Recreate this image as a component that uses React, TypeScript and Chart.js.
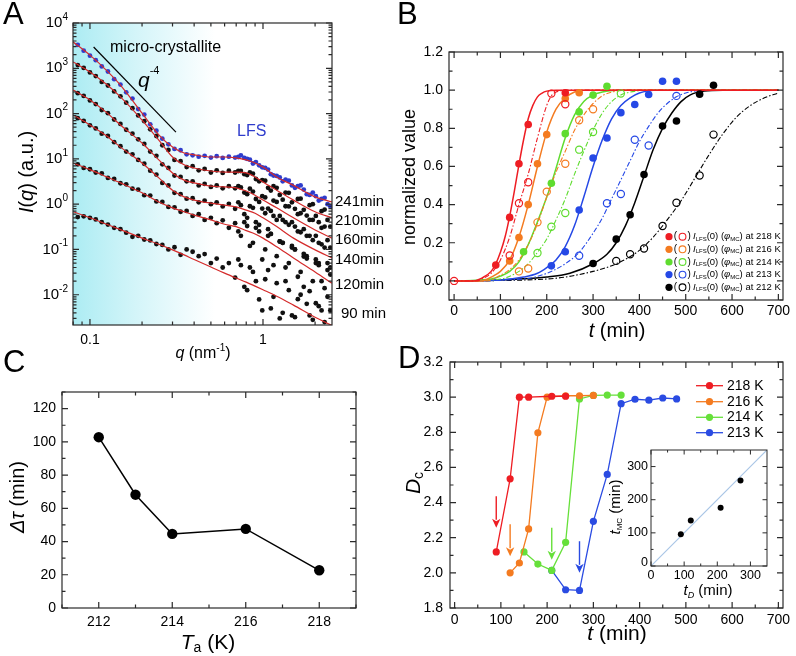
import React, { useEffect, useRef } from "react";
import { Chart, registerables } from "chart.js";

Chart.register(...registerables);

const FONT = "'Liberation Sans', Arial, Helvetica, sans-serif";
const W = 796;
const H = 656;

// ================= Panel A : SAXS curves =================
const qGrid = [0.085, 0.092, 0.1, 0.108, 0.117, 0.127, 0.138, 0.15, 0.162, 0.176, 0.19, 0.206, 0.223, 0.242, 0.262, 0.284, 0.308, 0.334, 0.362, 0.392, 0.425, 0.46, 0.5, 0.54, 0.585, 0.635, 0.69, 0.745, 0.81, 0.875, 0.95, 1.03, 1.11, 1.2, 1.3, 1.41, 1.53, 1.65, 1.79, 1.94, 2.1, 2.27, 2.45];
const I_241 = [3300, 2450, 1900, 1510, 1100, 850, 575, 437, 295, 214, 126, 95, 58, 42, 28, 21, 16.6, 15.5, 12.6, 12, 11.2, 11.7, 10.7, 11.5, 10.5, 11.2, 10.7, 12, 10, 7.9, 7.2, 6.3, 4.6, 4.2, 3.2, 3.3, 2.3, 2.6, 1.66, 1.8, 1.2, 1.38, 0.89];
const I_210 = [1175, 1020, 810, 675, 500, 417, 309, 240, 174, 132, 91, 68, 45, 32, 20, 15.8, 9.5, 8.9, 6.6, 6.9, 5.6, 6, 5, 5.6, 4.9, 5.5, 5, 5.4, 4.4, 4.7, 3.2, 3.3, 2, 2.3, 1.26, 1.78, 0.79, 1.32, 0.56, 1.0, 0.4, 0.76, 0.32];
const I_160 = [282, 245, 195, 162, 120, 102, 74, 59, 44, 36, 27, 21.4, 14.5, 11.7, 7.6, 6.3, 4.3, 4, 3.2, 3.2, 2.6, 2.8, 2.4, 2.6, 2.24, 2.5, 2.24, 2.34, 1.66, 1.9, 1.12, 1.41, 0.71, 1.12, 0.45, 0.89, 0.32, 0.63, 0.2, 0.45, 0.14, 0.32, 0.11];
const I_140 = [79, 69, 55, 47, 36, 32, 23.4, 19, 14.5, 12.6, 9.5, 7.8, 5.5, 4.5, 2.95, 2.6, 1.78, 1.66, 1.32, 1.35, 1.1, 1.2, 1.0, 1.1, 0.89, 1.02, 0.79, 0.95, 0.5, 0.83, 0.35, 0.63, 0.22, 0.45, 0.14, 0.35, 0.1, 0.24, 0.071, 0.16, 0.05, 0.11, 0.04];
const I_120 = [7.6, 6.3, 5.9, 5, 4.8, 3.8, 3.6, 2.9, 2.75, 2.2, 2.1, 1.58, 1.55, 1.15, 1.12, 0.87, 0.85, 0.68, 0.71, 0.55, 0.6, 0.45, 0.5, 0.38, 0.44, 0.3, 0.38, 0.2, 0.33, 0.14, 0.25, 0.1, 0.22, 0.071, 0.14, 0.05, 0.1, 0.032, 0.063, 0.02, 0.045, 0.014, 0.028];
const I_90 = [0.52, 0.54, 0.5, 0.46, 0.4, 0.355, 0.3, 0.28, 0.235, 0.19, 0.2, 0.166, 0.158, 0.132, 0.126, 0.1, 0.112, 0.076, 0.1, 0.089, 0.071, 0.079, 0.05, 0.063, 0.04, 0.05, 0.024, 0.045, 0.0126, 0.032, 0.0079, 0.022, 0.005, 0.018, 0.004, 0.0126, 0.0032, 0.01, 0.0063, 0.0028, 0.0056, 0.0025, 0.0045];

const qExtra = [0.72, 0.78, 0.84, 0.91, 0.99, 1.07, 1.15, 1.25, 1.35, 1.47, 1.59, 1.72, 1.86, 2.02, 2.18, 2.36];
const I_241x = [11, 10.5, 9.6, 8.5, 6.5, 5.8, 4.3, 3.9, 3.5, 2.6, 2.5, 2.1, 1.6, 1.5, 1.3, 1.0];
const I_210x = [5.4, 4.6, 5.0, 3.6, 3.4, 2.3, 2.5, 1.6, 1.8, 1.1, 1.3, 0.75, 0.95, 0.55, 0.7, 0.45];
const I_160x = [2.5, 1.8, 2.2, 1.3, 1.5, 0.8, 1.2, 0.55, 0.9, 0.4, 0.6, 0.28, 0.45, 0.2, 0.3, 0.16];
const I_140x = [1.1, 0.6, 0.9, 0.4, 0.8, 0.28, 0.55, 0.15, 0.4, 0.12, 0.25, 0.08, 0.2, 0.06, 0.13, 0.05];
const I_120x = [0.25, 0.4, 0.12, 0.3, 0.06, 0.2, 0.045, 0.15, 0.04, 0.11, 0.025, 0.07, 0.012, 0.05, 0.02, 0.035];
const I_90x = [0.06, 0.015, 0.04, 0.02, 0.0045, 0.035, 0.009, 0.003, 0.02, 0.0035, 0.008, 0.015, 0.0035, 0.0065, 0.0045, 0.009];

const qFit = [0.08, 0.1, 0.125, 0.15, 0.2, 0.25, 0.3, 0.35, 0.4, 0.5, 0.6, 0.7, 0.8, 0.9, 1.0, 1.2, 1.5, 2.0, 2.5];
const fit_241 = [3800, 1950, 890, 427, 102, 34, 18.2, 13.5, 12.3, 11, 11, 10.5, 9.5, 8.1, 6.6, 4.0, 2.6, 1.45, 1.12];
const fit_210 = [1380, 830, 437, 234, 72, 26, 11, 7.4, 6.3, 5.4, 5.1, 5.1, 4.9, 4.0, 3.1, 2.04, 1.23, 0.68, 0.5];
const fit_160 = [330, 200, 105, 56, 22.4, 9.5, 4.9, 3.4, 2.95, 2.5, 2.4, 2.3, 1.95, 1.58, 1.23, 0.83, 0.5, 0.27, 0.178];
const fit_140 = [93, 56, 32, 18.2, 8.1, 3.8, 2.04, 1.45, 1.23, 1.05, 0.95, 0.87, 0.74, 0.63, 0.5, 0.32, 0.178, 0.098, 0.065];
const fit_120 = [8.1, 5.8, 4.0, 2.95, 1.78, 1.12, 0.83, 0.68, 0.575, 0.45, 0.36, 0.32, 0.26, 0.22, 0.178, 0.115, 0.065, 0.032, 0.018];
const fit_90 = [0.68, 0.5, 0.36, 0.275, 0.178, 0.13, 0.098, 0.076, 0.06, 0.041, 0.03, 0.0234, 0.019, 0.0155, 0.0129, 0.0093, 0.0059, 0.0032, 0.0021];

const slopeQ = [0.105, 0.314];
const slopeI = [2950, 39];
const aLabels = ["241min", "210min", "160min", "140min", "120min", "90 min"];

// ================= Panel B : kinetics =================
const bTemps = ["218 K", "216 K", "214 K", "213 K", "212 K"];
const bColors = ["#ee1d23", "#f47b20", "#5fdc2f", "#2548e6", "#000000"];

const tLfs218 = [90, 120, 140, 160, 240];
const vLfs218 = [0.083, 0.333, 0.614, 0.82, 0.986];
const tMc218 = [0, 120, 140, 160, 210, 240];
const vMc218 = [0, 0.133, 0.407, 0.517, 0.982, 0.926];
const tLfs216 = [120, 140, 160, 180, 200, 240, 270];
const vLfs216 = [0.105, 0.228, 0.4, 0.614, 0.767, 0.956, 0.986];
const tMc216 = [140, 160, 180, 200, 240, 270, 300];
const vMc216 = [0.05, 0.065, 0.307, 0.468, 0.614, 0.842, 0.9];
const tLfs214 = [150, 210, 240, 270, 300, 330];
const vLfs214 = [0.153, 0.512, 0.772, 0.886, 0.974, 1.02];
const tMc214 = [180, 210, 240, 270, 300, 360];
const vMc214 = [0.146, 0.284, 0.356, 0.688, 0.781, 0.982];
const tLfs213 = [210, 240, 270, 300, 330, 360, 390, 420, 450, 480];
const vLfs213 = [0.079, 0.153, 0.372, 0.644, 0.749, 0.882, 0.925, 0.977, 1.047, 1.047];
const tMc213 = [270, 330, 360, 390, 420, 480];
const vMc213 = [0.132, 0.407, 0.456, 0.74, 0.71, 0.97];
const tLfs212 = [300, 350, 380, 410, 450, 480, 530, 560];
const vLfs212 = [0.091, 0.219, 0.347, 0.558, 0.812, 0.838, 0.979, 1.026];
const tMc212 = [350, 380, 410, 450, 480, 530, 560];
const vMc212 = [0.105, 0.14, 0.17, 0.288, 0.41, 0.553, 0.767];

const tFitS218 = [0, 40, 60, 80, 90, 100, 110, 120, 130, 140, 150, 160, 170, 180, 190, 200, 220, 700];
const vFitS218 = [0, 0, 0.015, 0.05, 0.09, 0.15, 0.23, 0.34, 0.47, 0.61, 0.74, 0.85, 0.92, 0.965, 0.985, 0.995, 1, 1];
const tFitD218 = [0, 50, 60, 80, 100, 120, 140, 160, 180, 200, 210, 220, 240, 700];
const vFitD218 = [0, 0, 0.01, 0.04, 0.11, 0.23, 0.4, 0.56, 0.75, 0.92, 0.97, 0.99, 1, 1];
const tFitS216 = [0, 60, 80, 100, 120, 140, 160, 180, 200, 220, 240, 260, 280, 700];
const vFitS216 = [0, 0, 0.02, 0.05, 0.11, 0.23, 0.4, 0.6, 0.78, 0.9, 0.96, 0.99, 1, 1];
const tFitD216 = [0, 70, 100, 120, 140, 160, 180, 200, 220, 240, 260, 280, 300, 320, 340, 380, 700];
const vFitD216 = [0, 0, 0.03, 0.06, 0.11, 0.19, 0.3, 0.44, 0.57, 0.68, 0.79, 0.87, 0.93, 0.97, 0.99, 1, 1];
const tFitS214 = [0, 80, 100, 120, 140, 160, 180, 200, 210, 220, 240, 260, 280, 300, 320, 350, 700];
const vFitS214 = [0, 0.01, 0.025, 0.05, 0.1, 0.19, 0.31, 0.44, 0.51, 0.59, 0.75, 0.87, 0.94, 0.975, 0.99, 1, 1];
const tFitD214 = [0, 100, 140, 160, 180, 200, 220, 240, 260, 280, 300, 320, 340, 360, 380, 420, 700];
const vFitD214 = [0, 0.01, 0.05, 0.09, 0.15, 0.22, 0.32, 0.43, 0.56, 0.68, 0.79, 0.88, 0.94, 0.975, 0.99, 1, 1];
const tFitS213 = [0, 100, 150, 180, 200, 220, 240, 260, 280, 300, 320, 340, 360, 380, 400, 430, 700];
const vFitS213 = [0, 0.005, 0.02, 0.04, 0.07, 0.11, 0.18, 0.29, 0.44, 0.6, 0.74, 0.85, 0.92, 0.96, 0.985, 1, 1];
const tFitD213 = [0, 150, 200, 240, 270, 300, 320, 340, 360, 380, 400, 420, 440, 460, 480, 500, 540, 700];
const vFitD213 = [0, 0.01, 0.04, 0.09, 0.15, 0.25, 0.33, 0.43, 0.53, 0.63, 0.73, 0.81, 0.88, 0.93, 0.965, 0.985, 1, 1];
const tFitS212 = [0, 100, 200, 250, 300, 330, 350, 370, 390, 410, 430, 450, 470, 490, 510, 540, 580, 700];
const vFitS212 = [0, 0.005, 0.02, 0.04, 0.09, 0.14, 0.2, 0.29, 0.41, 0.55, 0.69, 0.8, 0.88, 0.94, 0.975, 0.995, 1, 1];
const tFitD212 = [0, 200, 300, 350, 400, 430, 460, 490, 520, 550, 580, 610, 640, 670, 700];
const vFitD212 = [0, 0.01, 0.05, 0.09, 0.16, 0.23, 0.32, 0.42, 0.54, 0.66, 0.77, 0.86, 0.92, 0.96, 0.985];

// ================= Panel C =================
const cTemp = [212, 213, 214, 216, 218];
const cDtau = [102.8, 68.2, 44.6, 47.6, 22.7];

// ================= Panel D =================
const dTemps = ["218 K", "216 K", "214 K", "213 K"];
const dColors = ["#ee1d23", "#f47b20", "#66e03a", "#2a4be2"];
const dT218 = [90, 120, 140, 160, 210, 240];
const dD218 = [2.119, 2.535, 3.0, 3.0, 3.005, 3.005];
const dT216 = [120, 140, 160, 180, 200, 240, 270, 300];
const dD216 = [2.0, 2.056, 2.25, 2.797, 3.0, 3.008, 3.008, 3.01];
const dT214 = [150, 180, 210, 240, 270, 300, 330, 360];
const dD214 = [2.119, 2.05, 2.014, 2.174, 2.99, 3.01, 3.012, 3.012];
const dT213 = [210, 240, 270, 300, 330, 360, 390, 420, 450, 480];
const dD213 = [2.014, 1.904, 1.9, 2.293, 2.56, 2.963, 2.988, 2.983, 2.995, 2.99];
const arrowT = [90, 120, 210, 270];
const arrowTop = [2.436, 2.276, 2.256, 2.18];
const arrowBot = [2.256, 2.094, 2.075, 2.0];

// inset
const insetTD = [90, 120, 210, 270];
const insetTMC = [96, 137, 176, 258];
const diagT = [0, 350];

// ================= helpers =================
type Seg = { t: string; size: number; italic?: boolean; dy?: number; color?: string };

function segFont(s: Seg) {
  return (s.italic ? "italic " : "") + s.size + "px " + FONT;
}

function drawRich(ctx: any, segs: Seg[], x: number, y: number, align = "center", rot = 0, color = "#000") {
  ctx.save();
  ctx.translate(x, y);
  if (rot) ctx.rotate(rot);
  let w = 0;
  for (const s of segs) {
    ctx.font = segFont(s);
    w += ctx.measureText(s.t).width;
  }
  let cx = align === "center" ? -w / 2 : align === "right" ? -w : 0;
  ctx.textBaseline = "middle";
  ctx.textAlign = "left";
  for (const s of segs) {
    ctx.font = segFont(s);
    ctx.fillStyle = s.color || color;
    ctx.fillText(s.t, cx, s.dy || 0);
    cx += ctx.measureText(s.t).width;
  }
  ctx.restore();
}

function letter(ctx: any, t: string, x: number, yBase: number) {
  ctx.save();
  ctx.font = "31px " + FONT;
  ctx.fillStyle = "#000";
  ctx.textAlign = "left";
  ctx.textBaseline = "alphabetic";
  ctx.fillText(t, x, yBase);
  ctx.restore();
}

function steps(a: number, b: number, s: number) {
  const out: number[] = [];
  for (let v = a; v <= b + 1e-9; v += s) out.push(Math.round(v * 1000) / 1000);
  return out;
}

const pts = (xs: number[], ys: number[]) => xs.map((x, i) => ({ x, y: ys[i] }));

function axesPlugin(cfg: any) {
  return {
    id: "customAxes",
    beforeDatasetsDraw(chart: any) {
      if (cfg.bg) {
        const ctx = chart.ctx;
        ctx.save();
        cfg.bg(ctx, chart);
        ctx.restore();
      }
    },
    afterDraw(chart: any) {
      const ctx = chart.ctx;
      const a = chart.chartArea;
      const xs = chart.scales.x;
      const ys = chart.scales.y;
      ctx.save();
      ctx.strokeStyle = "#2a2a2a";
      ctx.lineWidth = cfg.lw || 1.2;
      const tick = (vals: number[], len: number, isX: boolean) => {
        ctx.beginPath();
        for (const v of vals) {
          if (isX) {
            const p = xs.getPixelForValue(v);
            if (p < a.left - 0.5 || p > a.right + 0.5) continue;
            ctx.moveTo(p, a.bottom);
            ctx.lineTo(p, a.bottom - len);
            ctx.moveTo(p, a.top);
            ctx.lineTo(p, a.top + len);
          } else {
            const p = ys.getPixelForValue(v);
            if (p < a.top - 0.5 || p > a.bottom + 0.5) continue;
            ctx.moveTo(a.left, p);
            ctx.lineTo(a.left + len, p);
            ctx.moveTo(a.right, p);
            ctx.lineTo(a.right - len, p);
          }
        }
        ctx.stroke();
      };
      tick(cfg.xMajor, cfg.maj, true);
      tick(cfg.xMinor, cfg.min, true);
      tick(cfg.yMajor, cfg.maj, false);
      tick(cfg.yMinor, cfg.min, false);
      ctx.strokeRect(a.left, a.top, a.right - a.left, a.bottom - a.top);
      ctx.fillStyle = "#000";
      ctx.font = (cfg.tickFont || 14) + "px " + FONT;
      ctx.textBaseline = "middle";
      if (cfg.xLabels) {
        ctx.textAlign = "center";
        for (const v of cfg.xLabels) ctx.fillText(cfg.xFmt(v), xs.getPixelForValue(v), cfg.xLabelY);
      }
      if (cfg.yLabels) {
        ctx.textAlign = "right";
        for (const v of cfg.yLabels) ctx.fillText(cfg.yFmt(v), cfg.yLabelX, ys.getPixelForValue(v));
      }
      if (cfg.extra) cfg.extra(ctx, chart);
      ctx.restore();
    },
  };
}

function mk(canvas: HTMLCanvasElement, datasets: any[], area: number[], xs: any, ys: any, plugin: any) {
  return new Chart(canvas, {
    type: "scatter",
    data: { datasets },
    options: {
      responsive: false,
      animation: false,
      events: [],
      layout: { padding: { left: area[0], top: area[1], right: W - area[2], bottom: H - area[3] } },
      plugins: { legend: { display: false }, tooltip: { enabled: false } },
      scales: { x: { ...xs, display: false }, y: { ...ys, display: false } },
    } as any,
    plugins: [plugin],
  });
}

// ================= chart builders =================
const A_BLUE = "#2f3ccc";
const A_RED = "#d42a2a";

function buildA(canvas: HTMLCanvasElement) {
  const curves = [
    { I: I_241, Ix: I_241x, fit: fit_241, color: A_BLUE },
    { I: I_210, Ix: I_210x, fit: fit_210, color: "#111" },
    { I: I_160, Ix: I_160x, fit: fit_160, color: "#111" },
    { I: I_140, Ix: I_140x, fit: fit_140, color: "#111" },
    { I: I_120, Ix: I_120x, fit: fit_120, color: "#111" },
    { I: I_90, Ix: I_90x, fit: fit_90, color: "#111" },
  ];
  const ds: any[] = [];
  for (const c of curves) {
    ds.push({ data: pts(qFit, c.fit), showLine: true, borderColor: A_RED, borderWidth: 1.2, pointRadius: 0, cubicInterpolationMode: "monotone", order: 0 });
    ds.push({ data: pts(qGrid, c.I), pointRadius: 2.4, pointBorderWidth: 0, pointBackgroundColor: c.color, order: 2 });
    ds.push({ data: pts(qExtra, c.Ix), pointRadius: 2.4, pointBorderWidth: 0, pointBackgroundColor: c.color, order: 2 });
  }
  ds.push({ data: pts(slopeQ, slopeI), showLine: true, borderColor: "#000", borderWidth: 1.2, pointRadius: 0, order: 0 });

  const yMajor = [0.01, 0.1, 1, 10, 100, 1000, 10000];
  const yMinor: number[] = [];
  for (const d of [0.001, 0.01, 0.1, 1, 10, 100, 1000]) for (let m = 2; m <= 9; m++) yMinor.push(m * d);
  const xMinor = [0.08, 0.09, 0.2, 0.3, 0.4, 0.5, 0.6, 0.7, 0.8, 0.9, 2];
  const exps = ["-2", "-1", "0", "1", "2", "3", "4"];
  const labelY = [201.7, 220.5, 239.5, 260, 285];

  const plugin = axesPlugin({
    xMajor: [0.1, 1], xMinor, yMajor, yMinor, maj: 6, min: 3.5,
    bg: (ctx: any, chart: any) => {
      const a = chart.chartArea;
      const g = ctx.createLinearGradient(a.left, 0, 215, 0);
      g.addColorStop(0, "rgb(172,236,243)");
      g.addColorStop(0.45, "rgb(212,245,249)");
      g.addColorStop(1, "rgb(255,255,255)");
      ctx.fillStyle = g;
      ctx.fillRect(a.left, a.top, a.right - a.left, a.bottom - a.top);
    },
    extra: (ctx: any, chart: any) => {
      const xs = chart.scales.x;
      const ys = chart.scales.y;
      yMajor.forEach((v, i) => {
        drawRich(ctx, [{ t: "10", size: 15 }, { t: exps[i], size: 10, dy: -6 }], 68, ys.getPixelForValue(v), "right");
      });
      ctx.font = "14px " + FONT;
      ctx.textAlign = "center";
      ctx.textBaseline = "middle";
      ctx.fillStyle = "#000";
      ctx.fillText("0.1", xs.getPixelForValue(0.1), 340);
      ctx.fillText("1", xs.getPixelForValue(1), 340);
      drawRich(ctx, [{ t: "q", size: 16, italic: true }, { t: " (nm", size: 16 }, { t: "-1", size: 10, dy: -6 }, { t: ")", size: 16 }], 203, 354, "center");
      drawRich(ctx, [{ t: "I", size: 20, italic: true }, { t: "(", size: 20 }, { t: "q", size: 20, italic: true }, { t: ") (a.u.)", size: 20 }], 27, 172, "center", -Math.PI / 2);
      drawRich(ctx, [{ t: "micro-crystallite", size: 16 }], 110, 48, "left");
      drawRich(ctx, [{ t: "q", size: 21, italic: true }, { t: "-4", size: 11, dy: -10 }], 138, 81, "left");
      drawRich(ctx, [{ t: "LFS", size: 16, color: A_BLUE }], 237, 132, "left");
      aLabels.forEach((t, i) => {
        if (i < 5) drawRich(ctx, [{ t, size: 15 }], 335, labelY[i], "left");
        else drawRich(ctx, [{ t, size: 15 }], 341, 313.5, "left");
      });
      letter(ctx, "A", 3, 24);
    },
  });
  return mk(canvas, ds, [73, 23, 332, 325], { type: "logarithmic", min: 0.0798, max: 2.505 }, { type: "logarithmic", min: 0.00215, max: 10000 }, plugin);
}

function buildB(canvas: HTMLCanvasElement) {
  const sets = [
    { tl: tLfs218, vl: vLfs218, tm: tMc218, vm: vMc218, ts: tFitS218, vs: vFitS218, td: tFitD218, vd: vFitD218 },
    { tl: tLfs216, vl: vLfs216, tm: tMc216, vm: vMc216, ts: tFitS216, vs: vFitS216, td: tFitD216, vd: vFitD216 },
    { tl: tLfs214, vl: vLfs214, tm: tMc214, vm: vMc214, ts: tFitS214, vs: vFitS214, td: tFitD214, vd: vFitD214 },
    { tl: tLfs213, vl: vLfs213, tm: tMc213, vm: vMc213, ts: tFitS213, vs: vFitS213, td: tFitD213, vd: vFitD213 },
    { tl: tLfs212, vl: vLfs212, tm: tMc212, vm: vMc212, ts: tFitS212, vs: vFitS212, td: tFitD212, vd: vFitD212 },
  ];
  const ds: any[] = [];
  sets.forEach((s, i) => {
    const c = bColors[i];
    ds.push({ data: pts(s.ts, s.vs), showLine: true, borderColor: c, borderWidth: 1.5, pointRadius: 0, cubicInterpolationMode: "monotone", order: 2 });
    ds.push({ data: pts(s.td, s.vd), showLine: true, borderColor: c, borderWidth: 1.1, borderDash: [5, 2, 1.5, 2], pointRadius: 0, cubicInterpolationMode: "monotone", order: 2 });
    ds.push({ data: pts(s.tl, s.vl), pointRadius: 3.8, pointBorderWidth: 0, pointBackgroundColor: c, order: 1 });
    ds.push({ data: pts(s.tm, s.vm), pointRadius: 3.6, pointBorderWidth: 1.2, pointBorderColor: c, pointBackgroundColor: "rgba(255,255,255,0)", order: 1 });
  });
  const rowY = [236.7, 249.3, 262, 274.6, 287.3];
  const plugin = axesPlugin({
    xMajor: steps(0, 700, 100), xMinor: steps(50, 650, 100), yMajor: steps(0, 1.2, 0.2), yMinor: steps(-0.1, 1.1, 0.2),
    maj: 6, min: 3.5, tickFont: 14,
    xLabels: steps(0, 700, 100), xFmt: (v: number) => String(v), xLabelY: 311,
    yLabels: steps(0, 1.2, 0.2), yFmt: (v: number) => v.toFixed(1), yLabelX: 443,
    extra: (ctx: any) => {
      drawRich(ctx, [{ t: "normalized value", size: 18 }], 410, 177, "center", -Math.PI / 2);
      drawRich(ctx, [{ t: "t", size: 20, italic: true }, { t: " (min)", size: 20 }], 617, 331, "center");
      rowY.forEach((y, i) => {
        const c = bColors[i];
        ctx.fillStyle = c;
        ctx.beginPath();
        ctx.arc(669, y, 3.6, 0, Math.PI * 2);
        ctx.fill();
        ctx.strokeStyle = c;
        ctx.lineWidth = 1.1;
        ctx.beginPath();
        ctx.arc(682.5, y, 3.4, 0, Math.PI * 2);
        ctx.stroke();
        drawRich(ctx, [{ t: "(", size: 10 }], 675.5, y, "center");
        drawRich(ctx, [{ t: ")", size: 10 }], 689.2, y, "center");
        drawRich(ctx, [
          { t: "I", size: 9.5, italic: true },
          { t: "LFS", size: 6, dy: 2.5 },
          { t: "(0) (", size: 9.5 },
          { t: "\u03c6", size: 9.5, italic: true },
          { t: "MC", size: 6, dy: 2.5 },
          { t: ") at " + bTemps[i], size: 9.5 },
        ], 693, y, "left");
      });
      letter(ctx, "B", 397, 24);
    },
  });
  return mk(canvas, ds, [449, 52, 783, 300], { type: "linear", min: -11, max: 710 }, { type: "linear", min: -0.1, max: 1.2 }, plugin);
}

function buildC(canvas: HTMLCanvasElement) {
  const ds = [{ data: pts(cTemp, cDtau), showLine: true, borderColor: "#000", borderWidth: 1.5, pointRadius: 5.2, pointBackgroundColor: "#000", pointBorderWidth: 0 }];
  const plugin = axesPlugin({
    xMajor: [212, 214, 216, 218], xMinor: [211, 213, 215, 217, 219], yMajor: steps(0, 120, 20), yMinor: steps(10, 130, 20),
    maj: 6, min: 3.5, tickFont: 14,
    xLabels: [212, 214, 216, 218], xFmt: (v: number) => String(v), xLabelY: 622,
    yLabels: steps(0, 120, 20), yFmt: (v: number) => String(v), yLabelX: 56,
    extra: (ctx: any) => {
      drawRich(ctx, [{ t: "\u0394\u03c4", size: 20, italic: true }, { t: " (min)", size: 20 }], 18, 497, "center", -Math.PI / 2);
      drawRich(ctx, [{ t: "T", size: 21, italic: true }, { t: "a", size: 14, dy: 5 }, { t: " (K)", size: 21 }], 208, 643, "center");
      letter(ctx, "C", 3, 372);
    },
  });
  return mk(canvas, ds, [62, 392, 356, 608], { type: "linear", min: 211, max: 219 }, { type: "linear", min: 0, max: 130 }, plugin);
}

function buildD(canvas: HTMLCanvasElement) {
  const series = [
    { t: dT218, d: dD218 },
    { t: dT216, d: dD216 },
    { t: dT214, d: dD214 },
    { t: dT213, d: dD213 },
  ];
  const ds = series.map((s, i) => ({
    data: pts(s.t, s.d), showLine: true, borderColor: dColors[i], borderWidth: 1.3,
    pointRadius: 3.6, pointBackgroundColor: dColors[i], pointBorderWidth: 0, order: i,
  }));
  const rowY = [385.7, 401.7, 417.3, 432.7];
  const plugin = axesPlugin({
    xMajor: steps(0, 700, 100), xMinor: steps(50, 650, 100), yMajor: steps(1.8, 3.2, 0.2), yMinor: steps(1.9, 3.1, 0.2),
    maj: 6, min: 3.5, tickFont: 14,
    xLabels: steps(0, 700, 100), xFmt: (v: number) => String(v), xLabelY: 620,
    yLabels: steps(1.8, 3.2, 0.2), yFmt: (v: number) => v.toFixed(1), yLabelX: 443,
    extra: (ctx: any, chart: any) => {
      const xs = chart.scales.x;
      const ys = chart.scales.y;
      arrowT.forEach((t, i) => {
        const x = xs.getPixelForValue(t);
        const y0 = ys.getPixelForValue(arrowTop[i]);
        const y1 = ys.getPixelForValue(arrowBot[i]);
        ctx.strokeStyle = dColors[i];
        ctx.fillStyle = dColors[i];
        ctx.lineWidth = 1.4;
        ctx.beginPath();
        ctx.moveTo(x, y0);
        ctx.lineTo(x, y1 - 8);
        ctx.stroke();
        ctx.beginPath();
        ctx.moveTo(x - 4.2, y1 - 9);
        ctx.lineTo(x, y1 - 6.5);
        ctx.lineTo(x + 4.2, y1 - 9);
        ctx.lineTo(x, y1);
        ctx.closePath();
        ctx.fill();
      });
      rowY.forEach((y, i) => {
        ctx.strokeStyle = dColors[i];
        ctx.lineWidth = 1.3;
        ctx.beginPath();
        ctx.moveTo(696, y);
        ctx.lineTo(723, y);
        ctx.stroke();
        ctx.fillStyle = dColors[i];
        ctx.beginPath();
        ctx.arc(709.5, y, 3.6, 0, Math.PI * 2);
        ctx.fill();
        drawRich(ctx, [{ t: dTemps[i], size: 14 }], 727, y, "left");
      });
      drawRich(ctx, [{ t: "D", size: 21, italic: true }, { t: "c", size: 14, dy: 5 }], 414, 483, "center", -Math.PI / 2);
      drawRich(ctx, [{ t: "t", size: 21, italic: true }, { t: " (min)", size: 21 }], 617, 634, "center");
      letter(ctx, "D", 398, 368);
    },
  });
  return mk(canvas, ds, [450, 362, 783, 608], { type: "linear", min: -10, max: 710 }, { type: "linear", min: 1.8, max: 3.2 }, plugin);
}

function buildInset(canvas: HTMLCanvasElement) {
  const ds = [
    { data: pts(diagT, diagT), showLine: true, borderColor: "#a9c6e6", borderWidth: 1.2, pointRadius: 0, order: 1 },
    { data: pts(insetTD, insetTMC), pointRadius: 3, pointBackgroundColor: "#000", pointBorderWidth: 0, order: 0 },
  ];
  const plugin = axesPlugin({
    xMajor: [0, 100, 200, 300], xMinor: [50, 150, 250], yMajor: [0, 100, 200, 300], yMinor: [50, 150, 250],
    maj: 4.5, min: 2.5, tickFont: 12.5, lw: 1,
    xLabels: [0, 100, 200, 300], xFmt: (v: number) => String(v), xLabelY: 576,
    yLabels: [100, 200, 300], yFmt: (v: number) => String(v), yLabelX: 648,
    bg: (ctx: any, chart: any) => {
      const a = chart.chartArea;
      ctx.fillStyle = "#fff";
      ctx.fillRect(a.left, a.top, a.right - a.left, a.bottom - a.top);
    },
    extra: (ctx: any) => {
      drawRich(ctx, [{ t: "0", size: 12.5 }], 648, 563, "right");
      drawRich(ctx, [{ t: "t", size: 15, italic: true }, { t: "MC", size: 8, dy: 4 }, { t: " (min)", size: 15 }], 616, 507, "center", -Math.PI / 2);
      drawRich(ctx, [{ t: "t", size: 15, italic: true }, { t: "D", size: 9, italic: true, dy: 4 }, { t: " (min)", size: 15 }], 708, 591, "center");
    },
  });
  return mk(canvas, ds, [651, 450, 767, 566], { type: "linear", min: 0, max: 350 }, { type: "linear", min: 0, max: 350 }, plugin);
}

function Layer({ build }: { build: (c: HTMLCanvasElement) => Chart }) {
  const ref = useRef<HTMLCanvasElement>(null);
  useEffect(() => {
    const ch = build(ref.current as HTMLCanvasElement);
    return () => ch.destroy();
  }, []);
  return <canvas ref={ref} width={W} height={H} style={{ position: "absolute", left: 0, top: 0, width: W, height: H }} />;
}

export default function App() {
  return (
    <div style={{ position: "fixed", left: 0, top: 0, width: W, height: H, background: "#fff", overflow: "hidden" }}>
      <Layer build={buildA} />
      <Layer build={buildB} />
      <Layer build={buildC} />
      <Layer build={buildD} />
      <Layer build={buildInset} />
    </div>
  );
}
